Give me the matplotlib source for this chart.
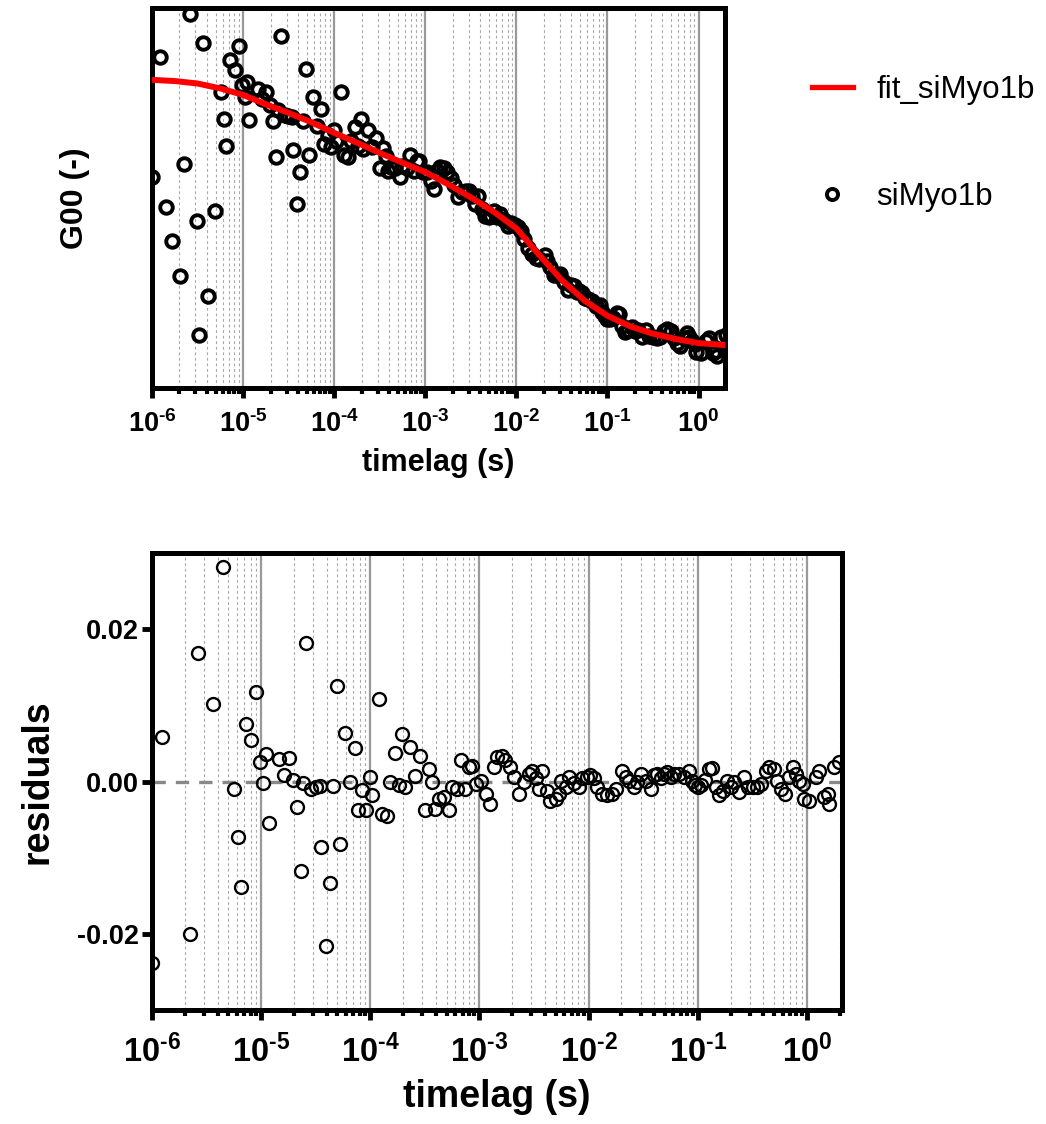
import math
import matplotlib
matplotlib.use('Agg')
import matplotlib.pyplot as plt
from matplotlib.ticker import FixedLocator, FuncFormatter, LogLocator, NullFormatter
from matplotlib.lines import Line2D

# ---------------- data ----------------
tau = [1.00e-6, 1.23e-6, 1.42e-6, 1.64e-6, 2.03e-6, 2.24e-6, 2.63e-6, 3.10e-6, 3.26e-6, 3.66e-6,
       4.09e-6, 4.45e-6, 4.90e-6, 5.67e-6, 6.14e-6, 6.53e-6, 7.20e-6, 8.15e-6, 9.00e-6, 9.75e-6,
       1.05e-5, 1.11e-5, 1.17e-5, 1.45e-5, 1.62e-5, 1.79e-5, 1.95e-5, 2.11e-5, 2.30e-5, 2.44e-5,
       2.60e-5, 2.86e-5, 3.15e-5, 3.43e-5, 3.57e-5, 3.89e-5, 4.24e-5, 4.55e-5, 4.95e-5, 5.23e-5,
       5.86e-5, 6.51e-5, 7.18e-5, 7.76e-5, 8.45e-5, 9.20e-5, 9.86e-5, 1.04e-4, 1.19e-4, 1.29e-4,
       1.42e-4, 1.52e-4, 1.69e-4, 1.82e-4, 1.95e-4, 2.09e-4, 2.33e-4, 2.59e-4, 2.88e-4, 3.15e-4,
       3.43e-4, 3.68e-4, 3.94e-4, 4.24e-4, 4.70e-4, 5.22e-4, 5.62e-4, 6.24e-4, 6.84e-4, 7.45e-4,
       8.09e-4, 8.57e-4, 9.33e-4, 1.04e-3, 1.15e-3, 1.26e-3, 1.35e-3, 1.46e-3, 1.61e-3, 1.73e-3,
       1.90e-3, 2.07e-3, 2.30e-3, 2.55e-3, 2.83e-3, 3.04e-3, 3.27e-3, 3.48e-3, 3.76e-3, 4.18e-3,
       4.48e-3, 4.98e-3, 5.31e-3, 5.65e-3, 6.15e-3, 6.59e-3, 7.33e-3, 8.15e-3, 8.63e-3, 9.59e-3,
       1.04e-2, 1.12e-2, 1.20e-2, 1.34e-2, 1.49e-2, 1.65e-2, 1.77e-2, 2.04e-2, 2.19e-2, 2.34e-2,
       2.61e-2, 2.80e-2, 3.00e-2, 3.33e-2, 3.71e-2, 3.97e-2, 4.25e-2, 4.58e-2, 4.91e-2, 5.27e-2,
       5.65e-2, 6.07e-2, 6.75e-2, 7.48e-2, 8.32e-2, 8.81e-2, 9.38e-2, 1.00e-1, 1.07e-1, 1.16e-1,
       1.27e-1, 1.34e-1, 1.46e-1, 1.57e-1, 1.69e-1, 1.87e-1, 2.01e-1, 2.15e-1, 2.39e-1, 2.66e-1,
       2.86e-1, 3.18e-1, 3.53e-1, 3.78e-1, 4.21e-1, 4.51e-1, 5.01e-1, 5.38e-1, 5.77e-1, 6.28e-1,
       6.89e-1, 7.40e-1, 7.93e-1, 8.49e-1, 9.14e-1, 9.46e-1, 1.05, 1.21, 1.30, 1.44,
       1.55, 1.60, 1.78, 1.98]

g00 = [0.0517, 0.0812, 0.0444, 0.0361, 0.0274, 0.0549, 0.0917, 0.0409, 0.0130, 0.0846,
       0.0226, 0.1024, 0.0434, 0.0724, 0.0659, 0.0593, 0.0803, 0.0779, 0.0838, 0.0743,
       0.0714, 0.0750, 0.0657, 0.0733, 0.0707, 0.0726, 0.0693, 0.0654, 0.0567, 0.0681,
       0.0863, 0.0668, 0.0667, 0.0665, 0.0583, 0.0450, 0.0530, 0.0654, 0.0781, 0.0572,
       0.0713, 0.0643, 0.0684, 0.0599, 0.0621, 0.0591, 0.0632, 0.0606, 0.0725, 0.0571,
       0.0565, 0.0606, 0.0640, 0.0594, 0.0659, 0.0586, 0.0633, 0.0591, 0.0612, 0.0538,
       0.0589, 0.0568, 0.0531, 0.0541, 0.0539, 0.0517, 0.0545, 0.0538, 0.0572, 0.0531,
       0.0557, 0.0556, 0.0529, 0.0528, 0.0506, 0.0488, 0.0532, 0.0541, 0.0538, 0.0528,
       0.0515, 0.0497, 0.0469, 0.0479, 0.0483, 0.0483, 0.0470, 0.0452, 0.0471, 0.0439,
       0.0422, 0.0418, 0.0421, 0.0433, 0.0419, 0.0427, 0.0411, 0.0398, 0.0405, 0.0399,
       0.0395, 0.0384, 0.0364, 0.0343, 0.0329, 0.0319, 0.0317, 0.0325, 0.0310, 0.0297,
       0.0278, 0.0276, 0.0280, 0.0260, 0.0240, 0.0252, 0.0249, 0.0236, 0.0237, 0.0233,
       0.0221, 0.0219, 0.0212, 0.0202, 0.0203, 0.0186, 0.0176, 0.0170, 0.0168, 0.0172,
       0.0183, 0.0181, 0.0153, 0.0138, 0.0141, 0.0150, 0.0139, 0.0142, 0.0126, 0.0143,
       0.0128, 0.0126, 0.0123, 0.0125, 0.0140, 0.0144, 0.0139, 0.0122, 0.0110, 0.0102,
       0.0122, 0.0134, 0.0124, 0.0114, 0.0109, 0.0088, 0.0085, 0.0115, 0.0122, 0.0086,
       0.0091, 0.0078, 0.0125, 0.0130]

resid = [-0.0238, 0.0059, -0.0308, -0.0391, -0.0477, -0.0200, 0.0169, -0.0338, -0.0617, 0.0102,
         -0.0517, 0.0282, -0.0307, -0.0010, -0.0073, -0.0138, 0.0075, 0.0055, 0.0118, 0.0025,
         -0.0002, 0.0036, -0.0054, 0.0030, 0.0009, 0.0031, 0.0002, -0.0034, -0.0118, -0.0002,
         0.0182, -0.0010, -0.0007, -0.0006, -0.0086, -0.0216, -0.0133, -0.0006, 0.0125, -0.0082,
         0.0064, -0.0001, 0.0044, -0.0037, -0.0011, -0.0038, 0.0006, -0.0018, 0.0108, -0.0043,
         -0.0045, -0.0001, 0.0038, -0.0005, 0.0063, -0.0007, 0.0045, 0.0007, 0.0033, -0.0038,
         0.0017, -0.0001, -0.0036, -0.0023, -0.0021, -0.0038, -0.0007, -0.0010, 0.0028, -0.0010,
         0.0019, 0.0021, -0.0003, 0.0001, -0.0016, -0.0029, 0.0019, 0.0032, 0.0034, 0.0028,
         0.0019, 0.0006, -0.0016, 0.0000, 0.0010, 0.0014, 0.0005, -0.0010, 0.0014, -0.0012,
         -0.0025, -0.0023, -0.0016, 0.0001, -0.0007, 0.0006, -0.0002, -0.0007, 0.0004, 0.0006,
         0.0008, 0.0005, -0.0007, -0.0016, -0.0018, -0.0016, -0.0010, 0.0014, 0.0006, 0.0001,
         -0.0007, -0.0001, 0.0010, 0.0001, -0.0010, 0.0008, 0.0010, 0.0004, 0.0010, 0.0012,
         0.0006, 0.0010, 0.0010, 0.0006, 0.0014, 0.0001, -0.0005, -0.0007, -0.0005, 0.0002,
         0.0017, 0.0018, -0.0007, -0.0018, -0.0012, 0.0001, -0.0007, -0.0001, -0.0014, 0.0006,
         -0.0007, -0.0007, -0.0007, -0.0003, 0.0014, 0.0019, 0.0017, 0.0001, -0.0010, -0.0016,
         0.0006, 0.0019, 0.0010, 0.0001, -0.0003, -0.0023, -0.0025, 0.0006, 0.0014, -0.0021,
         -0.0016, -0.0029, 0.0019, 0.0025]

fit_tau = [1e-6, 1.78e-6, 3.16e-6, 5.62e-6, 1e-5, 1.78e-5, 3.16e-5, 5.62e-5, 1e-4, 1.78e-4,
           3.16e-4, 5.62e-4, 1e-3, 1.78e-3, 3.16e-3, 5.62e-3, 1e-2, 1.78e-2, 3.16e-2, 5.62e-2,
           1e-1, 1.78e-1, 3.16e-1, 5.62e-1, 1.0, 2.0]
fit_g = [0.0755, 0.0752, 0.0746, 0.0734, 0.0718, 0.0695, 0.0674, 0.0651, 0.0625, 0.0601,
         0.0576, 0.0552, 0.0529, 0.0499, 0.0467, 0.0432, 0.0391, 0.0326, 0.0264, 0.0214,
         0.0177, 0.0151, 0.0133, 0.0120, 0.0110, 0.0105]

xticks = [1e-6, 1e-5, 1e-4, 1e-3, 1e-2, 1e-1, 1e0]
res_yticks = [-0.02, 0.0, 0.02]
res_yticklabels = ['-0.02', '0.00', '0.02']
series_label = 'siMyo1b'
fit_label = 'fit_siMyo1b'

# ---------------- fonts ----------------
REG = 'Liberation Sans'
plt.rcParams['font.family'] = [REG, 'DejaVu Sans']
plt.rcParams['mathtext.fontset'] = 'custom'
plt.rcParams['mathtext.bf'] = REG + ':bold'
plt.rcParams['mathtext.rm'] = REG + ':bold'
plt.rcParams['mathtext.it'] = REG + ':bold'

SP = 3.6  # spine width


def dec_label(v, pos):
    e = int(round(math.log10(v)))
    if e < 0:
        return '$\\mathbf{10^{\u2010%d}}$' % (-e)
    return '$\\mathbf{10^{%d}}$' % e


def style_axes(ax, xmax, labsize, pad):
    ax.set_xscale('log')
    ax.set_xlim(1e-6, xmax)
    for s in ax.spines.values():
        s.set_linewidth(SP)
        s.set_color('black')
    ax.xaxis.set_major_locator(FixedLocator(xticks))
    ax.xaxis.set_minor_locator(LogLocator(base=10, subs=range(2, 10), numticks=50))
    ax.xaxis.set_minor_formatter(NullFormatter())
    ax.xaxis.set_major_formatter(FuncFormatter(dec_label))
    ax.grid(which='major', axis='x', color='#999999', lw=1.6, ls='-', zorder=0)
    ax.grid(which='minor', axis='x', color='#a8a8a8', lw=0.8, ls=(0, (2.5, 2.5)), zorder=0)
    ax.grid(False, axis='y', which='both')
    ax.set_axisbelow(True)
    ax.tick_params(axis='x', which='major', direction='out', length=7, width=3.5,
                   labelsize=labsize, pad=pad)
    ax.tick_params(axis='x', which='minor', direction='out', length=4.5, width=3.0)


fig = plt.figure(figsize=(10.46, 11.24), dpi=100)

# ---------------- top panel ----------------
ax1 = fig.add_axes([152/1046, 1-388/1124, 573/1046, 380/1124])
style_axes(ax1, 1.95, 19.5, 9)
ax1.set_ylim(0.0, 0.0931)
ax1.set_yticks([])
ax1.plot(tau, g00, ls='none', marker='o', ms=9.0, mfc='none', mec='black', mew=2.8, zorder=3)
ax1.plot(fit_tau, fit_g, color='#ff0000', lw=4.3, zorder=4, solid_capstyle='butt')
ax1.set_xlabel('timelag (s)', fontsize=22, fontweight='bold', labelpad=7)
ax1.set_ylabel('G00 (-)', fontsize=23, fontweight='bold')
ax1.yaxis.set_label_coords(-0.109, 0.5)

# ---------------- bottom panel ----------------
ax2 = fig.add_axes([152/1046, 1-1010/1124, 690/1046, 457/1124])
style_axes(ax2, 2.1, 23.5, 11)
ax2.set_ylim(-0.03, 0.03)
ax2.axhline(0.0, color='#888888', lw=2.4, ls=(0, (4, 3)), zorder=1)
ax2.plot(tau, resid, ls='none', marker='o', ms=9.3, mfc='none', mec='black', mew=1.7, zorder=4)
ax2.set_yticks(res_yticks)
ax2.set_yticklabels(res_yticklabels, fontsize=19.5, fontweight='bold')
ax2.tick_params(axis='y', which='major', direction='out', length=7, width=3.5, pad=2.5)
ax2.set_xlabel('timelag (s)', fontsize=27, fontweight='bold', labelpad=7)
ax2.set_ylabel('residuals', fontsize=27, fontweight='bold', labelpad=15)

# ---------------- legend ----------------
handles = [Line2D([], [], color='#ff0000', lw=3.8),
           Line2D([], [], ls='none', marker='o', ms=8, mfc='none', mec='black', mew=2.8)]
fig.legend(handles, [fit_label, series_label], loc='upper left',
           bbox_to_anchor=(812/1046, 1-75/1124), frameon=False,
           prop={'family': REG, 'size': 22.5}, handlelength=1.3, handletextpad=0.75,
           labelspacing=2.45, borderpad=0, borderaxespad=0)

fig.savefig('out.png', dpi=100)
